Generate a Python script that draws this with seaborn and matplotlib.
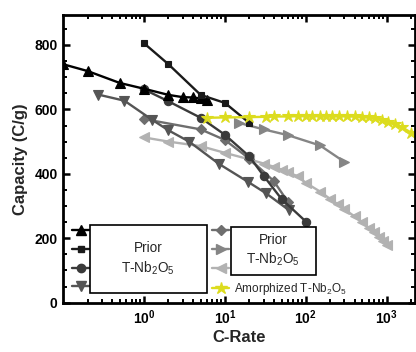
import numpy as np
import pandas as pd
import matplotlib
matplotlib.use("Agg")
import matplotlib.pyplot as plt
import seaborn as sns
from matplotlib.lines import Line2D
from matplotlib.patches import Rectangle

# ---------------- data ----------------
tri_up_x = [0.1, 0.2, 0.5, 1, 2, 3, 4, 5, 6]
tri_up_y = [740, 719, 682, 664, 645, 638, 637, 634, 630]

square_x = [1, 2, 5, 10, 20]
square_y = [805, 740, 645, 620, 558]

circle_x = [1, 2, 5, 10, 20, 30, 50, 100]
circle_y = [662, 625, 574, 521, 454, 394, 322, 252]

tri_down_x = [0.27, 0.57, 1.25, 2, 3.6, 8.4, 19, 32, 62]
tri_down_y = [646, 627, 568, 535, 500, 431, 376, 340, 287]

diamond_x = [1, 5, 10, 20, 40, 60]
diamond_y = [570, 538, 505, 447, 378, 313]

tri_right_x = [15, 30, 60, 150, 300]
tri_right_y = [558, 538, 520, 488, 437]

tri_left_x = [1, 2, 5, 10, 20, 30, 40, 50, 60, 80, 100, 150, 200, 250, 300,
              400, 500, 600, 700, 800, 900, 1000]
tri_left_y = [513, 500, 486, 465, 445, 432, 422, 413, 405, 392, 372, 345, 322,
              305, 290, 268, 250, 232, 218, 203, 192, 180]

star_x = [6, 10, 20, 32, 40, 60, 80, 100, 120, 150, 180, 210, 260, 320, 400,
          490, 600, 720, 870, 1050, 1270, 1540, 2000]
star_y = [574, 575, 576, 577, 578, 578, 579, 579, 579, 579, 579, 579, 579, 578,
          578, 577, 575, 572, 568, 562, 555, 545, 528]

x_ticks = [1, 10, 100, 1000]
x_tick_labels = ["$10^0$", "$10^1$", "$10^2$", "$10^3$"]
y_ticks = [0, 200, 400, 600, 800]

series = [
    (tri_up_x, tri_up_y, "^", "#000000", 6.5),
    (square_x, square_y, "s", "#1a1a1a", 4.5),
    (circle_x, circle_y, "o", "#3a3a3a", 6),
    (tri_down_x, tri_down_y, "v", "#555555", 6.5),
    (diamond_x, diamond_y, "D", "#6e6e6e", 5),
    (tri_right_x, tri_right_y, ">", "#858585", 6.5),
    (tri_left_x, tri_left_y, "<", "#b2b2b2", 6.5),
    (star_x, star_y, "*", "#dcdc1e", 9),
]

# ---------------- style ----------------
sns.set_theme(style="ticks")
plt.rcParams["font.family"] = ["Liberation Sans", "DejaVu Sans"]
plt.rcParams["mathtext.default"] = "regular"

fig = plt.figure(figsize=(4.16, 3.52), dpi=100)
ax_left, ax_right = 63.3, 415.0
ax_top, ax_bottom = 15.0, 302.7
W, H = 416.0, 352.0
ax = fig.add_axes([ax_left / W, (H - ax_bottom) / H,
                   (ax_right - ax_left) / W, (ax_bottom - ax_top) / H])

order = [6, 5, 4, 3, 2, 0, 1, 7]
for i in order:
    xs, ys, m, c, ms = series[i]
    df = pd.DataFrame({"x": xs, "y": ys})
    sns.lineplot(data=df, x="x", y="y", ax=ax, color=c, marker=m,
                 markersize=ms, markeredgecolor=c, markeredgewidth=0.8,
                 linewidth=1.7, estimator=None, sort=False, legend=False)

ax.set_xscale("log")
ax.set_xlim(0.1, 2240)
ax.set_ylim(0, 893)
ax.set_xticks(x_ticks)
ax.set_xticklabels(x_tick_labels)
ax.xaxis.set_minor_locator(matplotlib.ticker.LogLocator(base=10, subs=np.arange(2, 10), numticks=20))
ax.set_yticks(y_ticks)
ax.yaxis.set_minor_locator(matplotlib.ticker.MultipleLocator(50))

for s in ax.spines.values():
    s.set_linewidth(2.0)
    s.set_color("black")
ax.tick_params(which="both", direction="in", top=True, right=True, colors="black")
ax.tick_params(which="major", length=5, width=1.8, labelsize=10, pad=4)
ax.tick_params(which="minor", length=3, width=1.4)
for lab in ax.get_xticklabels() + ax.get_yticklabels():
    lab.set_fontweight("bold")

ax.set_xlabel("C-Rate", fontsize=12, fontweight="bold", labelpad=2)
ax.set_ylabel("Capacity (C/g)", fontsize=12, fontweight="bold", labelpad=5)

# ---------------- legends ----------------
def handle(i):
    xs, ys, m, c, ms = series[i]
    return Line2D([], [], color=c, marker=m, markersize=ms,
                  markeredgecolor=c, linewidth=1.7)

def axfx(px):
    return (px - ax_left) / (ax_right - ax_left)

def axfy(py):
    return (ax_bottom - py) / (ax_bottom - ax_top)

leg_kw = dict(loc="upper left", frameon=False, borderpad=0, borderaxespad=0,
              handlelength=1.5, handletextpad=0.4, labelspacing=0.56,
              fontsize=8.5)
leg1 = ax.legend([handle(i) for i in [0, 1, 2, 3]], ["", "", "", ""],
                 bbox_to_anchor=(axfx(71.7), axfy(225.5)), **leg_kw)
ax.add_artist(leg1)
leg2 = ax.legend([handle(i) for i in [4, 5, 6, 7]],
                 ["", "", "", "Amorphized T-Nb$_2$O$_5$"],
                 bbox_to_anchor=(axfx(211.7), axfy(225.5)), **leg_kw)

for (x0, x1, y0, y1) in [(90, 206.7, 225, 293.3), (230.7, 316, 226.7, 275)]:
    r = Rectangle((axfx(x0), axfy(y1)), axfx(x1) - axfx(x0), axfy(y0) - axfy(y1),
                  transform=ax.transAxes, facecolor="white", edgecolor="black",
                  linewidth=1.2, zorder=6)
    ax.add_patch(r)
    ax.text((axfx(x0) + axfx(x1)) / 2, (axfy(y0) + axfy(y1)) / 2,
            "Prior\nT-Nb$_2$O$_5$", transform=ax.transAxes, ha="center",
            va="center", fontsize=9.8, zorder=7, linespacing=1.3)

fig.savefig("out.png", dpi=100)
